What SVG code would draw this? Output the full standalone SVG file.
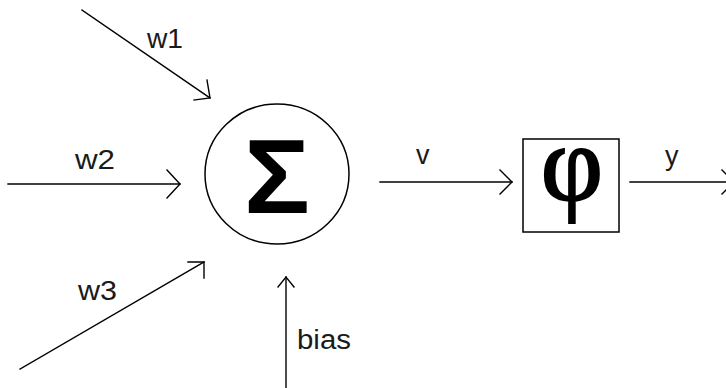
<svg xmlns="http://www.w3.org/2000/svg" width="726" height="388" viewBox="0 0 726 388">
<style>
.ln{fill:none;stroke:#000;stroke-width:1.4;stroke-linecap:square}
.lbl{font-family:"Liberation Sans",Arial,sans-serif;font-size:27px;fill:#1a1a1a}
.shape{fill:#fff;stroke:#000;stroke-width:1.5}
</style>
<rect width="726" height="388" fill="#fff"/>
<g id="connectors">
  <g id="e-w1"><path class="ln" d="M82,10 L210,98"/><path class="ln" d="M207,80 L210,98 L194,100"/></g>
  <g id="e-w2"><path class="ln" d="M8,184 L180,184"/><path class="ln" d="M167,170 L180,184 L167,198"/></g>
  <g id="e-w3"><path class="ln" d="M20,369 L204,262"/><path class="ln" d="M188,262 L204,262 L204,278"/></g>
  <g id="e-bias"><path class="ln" d="M286,388 L286,277"/><path class="ln" d="M278,287 L286,277 L294,287"/></g>
  <g id="e-v"><path class="ln" d="M380,182 L512,182"/><path class="ln" d="M500,170 L512,182 L500,194"/></g>
  <g id="e-y"><path class="ln" d="M630,182 L734,182"/><path class="ln" d="M722,170 L734,182 L722,194"/></g>
</g>
<g id="labels">
  <text class="lbl" x="147" y="48" textLength="36" lengthAdjust="spacingAndGlyphs">w1</text>
  <text class="lbl" x="75" y="169" textLength="40" lengthAdjust="spacingAndGlyphs">w2</text>
  <text class="lbl" x="78" y="300" textLength="39" lengthAdjust="spacingAndGlyphs">w3</text>
  <text class="lbl" x="297" y="349" textLength="54" lengthAdjust="spacingAndGlyphs">bias</text>
  <text class="lbl" x="416" y="164">v</text>
  <text class="lbl" x="665" y="165">y</text>
</g>
<g id="sum">
  <ellipse class="shape" cx="277" cy="174" rx="72" ry="70"/>
  <text x="277" y="213" text-anchor="middle" font-family="Liberation Sans,Arial,sans-serif" font-weight="bold" font-size="106" textLength="66" lengthAdjust="spacingAndGlyphs">Σ</text>
</g>
<g id="activation">
  <rect class="shape" x="523" y="139" width="96" height="93"/>
  <text x="572" y="200" text-anchor="middle" font-family="Liberation Serif,serif" font-size="108" stroke="#000" stroke-width="2">φ</text>
</g>
</svg>
